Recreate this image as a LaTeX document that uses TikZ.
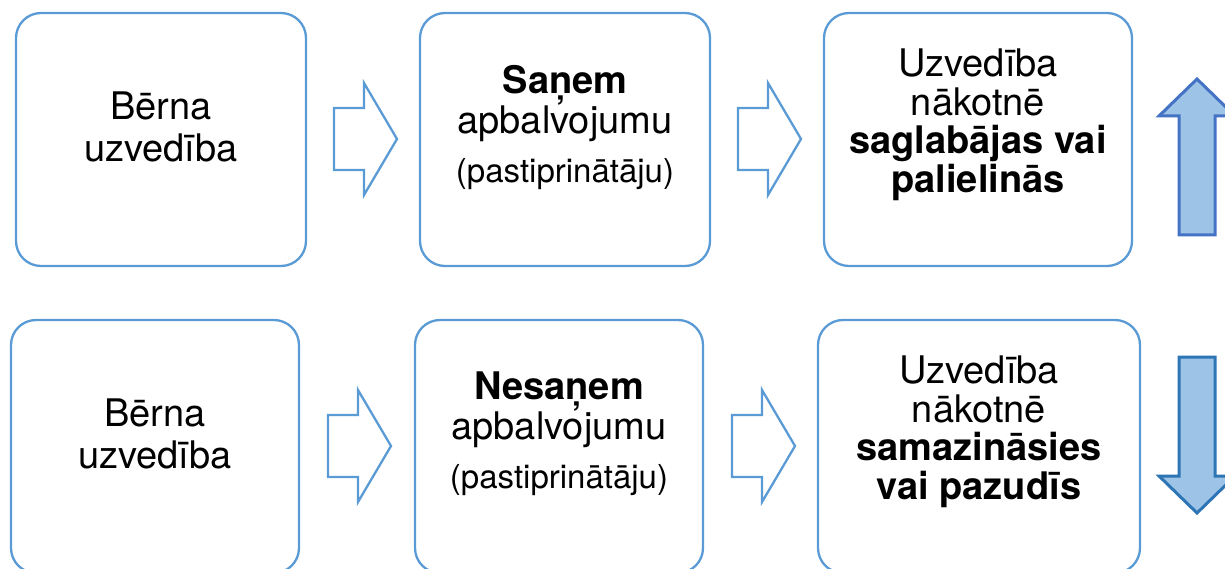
\documentclass[tikz,border=0pt]{standalone}
\usepackage{fontspec}
\setmainfont{TeX Gyre Heros}
\definecolor{boxblue}{HTML}{5B9BD5}
\definecolor{bigfill}{HTML}{9DC3E6}
\definecolor{upline}{HTML}{4472C4}
\definecolor{downline}{HTML}{2E75B6}
\begin{document}
\begin{tikzpicture}[x=1pt,y=-1pt,
  stepbox/.style={draw=boxblue, line width=2.3pt, rounded corners=25pt, inner sep=0pt, minimum height=253pt},
  txt/.style={align=center, inner sep=0pt, text=black},
  smallarrow/.style={draw=boxblue, line width=2.3pt, fill=white},
  bigarrow/.style={fill=bigfill, line width=3pt},
  pics/rarrow/.style={code={\draw[smallarrow] (0,-31)--(30,-31)--(30,-56)--(63,0)--(30,56)--(30,31)--(0,31)--cycle;}}
]
\useasboundingbox (0,0) rectangle (1225,569);
\clip (0,0) rectangle (1225,569);
% top row
\node[stepbox, minimum width=290pt] (b1) at (161,139.5) {};
\node[stepbox, minimum width=290pt] (b2) at (565,139.5) {};
\node[stepbox, minimum width=308pt] (b3) at (978,139.5) {};
\node[txt, font=\fontsize{38}{42}\selectfont] (t1) at (161,127.3) {Bērna\\uzvedība};
\node[txt, font=\fontsize{38}{40}\selectfont] (t2) at (565,127.2) {{\bfseries Saņem}\\apbalvojumu\\[9pt]{\fontsize{33}{40}\selectfont(pastiprinātāju)}};
\node[txt, font=\fontsize{38}{38.5}\selectfont] (t3) at (978,125) {Uzvedība\\nākotnē\\{\bfseries saglabājas vai}\\{\bfseries palielinās}};
\pic at (334,139) {rarrow};
\pic at (738,139) {rarrow};
\draw[bigarrow, draw=upline] (1179,235)--(1179,116)--(1159,116)--(1197,79)--(1235,116)--(1215,116)--(1215,235)--cycle;
% bottom row
\node[stepbox, minimum width=288pt] (b4) at (155,446.5) {};
\node[stepbox, minimum width=288pt] (b5) at (559,446.5) {};
\node[stepbox, minimum width=322pt] (b6) at (979,446.5) {};
\node[txt, font=\fontsize{38}{42}\selectfont] (t4) at (155,434.3) {Bērna\\uzvedība};
\node[txt, font=\fontsize{38}{40}\selectfont] (t5) at (559,434.2) {{\bfseries Nesaņem}\\apbalvojumu\\[9pt]{\fontsize{33}{40}\selectfont(pastiprinātāju)}};
\node[txt, font=\fontsize{38}{38.5}\selectfont] (t6) at (979,432) {Uzvedība\\nākotnē\\{\bfseries samazināsies}\\{\bfseries vai pazudīs}};
\pic at (328,446) {rarrow};
\pic at (732,446) {rarrow};
\draw[bigarrow, draw=downline] (1179,357)--(1215,357)--(1215,476)--(1235,476)--(1197,513)--(1159,476)--(1179,476)--cycle;
\end{tikzpicture}
\end{document}
